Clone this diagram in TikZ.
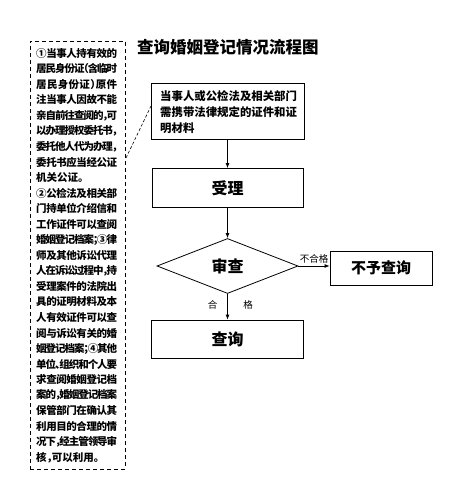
\documentclass[tikz,border=0pt]{standalone}
\usepackage{fontspec}
\setmainfont{Noto Sans CJK SC}[RawFeature=+halt]
\usetikzlibrary{shapes.geometric,arrows.meta}
\newcommand\spl[1]{\makebox[81pt][s]{\splfirst#1\relax}}
\def\splfirst#1{#1\splrest}
\def\splrest#1{\ifx#1\relax\else\hskip 0pt plus 1fil minus 1.5pt#1\expandafter\splrest\fi}
\tikzset{
  boxline/.style={draw=black, line width=0.8pt},
  flowbox/.style={boxline, rectangle, inner sep=0pt},
  arr/.style={line width=0.8pt, -{Latex[length=5pt,width=4pt]}},
  side/.style={font=\fontsize{10.5}{12}\selectfont\bfseries, inner sep=0pt, anchor=west},
  intro/.style={font=\fontsize{11.4}{13}\selectfont\bfseries, inner sep=0pt, anchor=west},
  big/.style={font=\fontsize{16}{18}\selectfont\bfseries},
  small/.style={font=\fontsize{9.5}{11}\selectfont, inner sep=0pt}
}
\begin{document}
\begin{tikzpicture}[x=1pt,y=-1pt]
\useasboundingbox (0,0) rectangle (463,502);
% left dashed box
\node[draw=black, line width=0.9pt, dash pattern=on 4pt off 3pt, minimum width=95pt, minimum height=428pt, inner sep=0pt] (lb) at (77.5,255) {};
\foreach \t [count=\i] in {
 {\spl{①当事人持有效的}},
 {\spl{居民身份证（含临时}},
 {\spl{居民身份证）原件}},
 {\spl{注当事人因故不能}},
 {\spl{亲自前往查阅的，可}},
 {\spl{以办理授权委托书，}},
 {\spl{委托他人代为办理，}},
 {\spl{委托书应当经公证}},
 {机关公证。},
 {\spl{②公检法及相关部}},
 {\spl{门持单位介绍信和}},
 {\spl{工作证件可以查阅}},
 {\spl{婚姻登记档案；③律}},
 {\spl{师及其他诉讼代理}},
 {\spl{人在诉讼过程中，持}},
 {\spl{受理案件的法院出}},
 {\spl{具的证明材料及本}},
 {\spl{人有效证件可以查}},
 {\spl{阅与诉讼有关的婚}},
 {\spl{姻登记档案；④其他}},
 {\spl{单位、组织和个人要}},
 {\spl{求查阅婚姻登记档}},
 {\spl{案的，婚姻登记档案}},
 {\spl{保管部门在确认其}},
 {\spl{利用目的合理的情}},
 {\spl{况下，经主管领导审}},
 {核，可以利用。}}
 \node[side] (l\i) at (36,{53.3+(\i-1)*15.54}) {\t};
% title
\node[anchor=west, inner sep=0pt, font=\fontsize{16.5}{19}\selectfont\bfseries] (title) at (137,47) {查询婚姻登记情况流程图};
% first box
\node[flowbox, minimum width=153pt, minimum height=56pt] (b1) at (227.5,111) {};
\node[intro] (b1a) at (160,96) {当事人或公检法及相关部门};
\node[intro] (b1b) at (160,112.5) {需携带法律规定的证件和证};
\node[intro] (b1c) at (160,128.5) {明材料};
% accept box
\node[flowbox, big, minimum width=151pt, minimum height=39pt] (r) at (227.5,188) {受理\hspace{12pt}};
% diamond
\node[boxline, diamond, minimum width=141pt, minimum height=55pt, inner sep=0pt, big] (d) at (227.5,266) {\raisebox{-2pt}{审查}};
% reject box
\node[flowbox, minimum width=102pt, minimum height=34pt, font=\fontsize{15}{17}\selectfont\bfseries] (n) at (381,268) {不予查询};
% query box
\node[flowbox, big, minimum width=152pt, minimum height=38pt] (q) at (227.5,339) {查询\hspace{10pt}};
% connectors
\draw[arr] (b1.south) -- (r.north);
\draw[arr] (r.south) -- (d.north);
\draw[arr] (d.east) -- node[small, midway, above, yshift=2.5pt] (ng) {不合格} (d.east -| n.west);
\draw[arr] (d.south) -- node[small, pos=0.41, xshift=-15pt] (h1) {合} node[small, pos=0.41, xshift=20.5pt] (h2) {格} (q.north);
% dashed anchor line
\coordinate (da) at (126,158);
\coordinate (db) at (151,106);
\draw[line width=0.6pt, dash pattern=on 3pt off 2pt] (da) -- (db);
\end{tikzpicture}
\end{document}
